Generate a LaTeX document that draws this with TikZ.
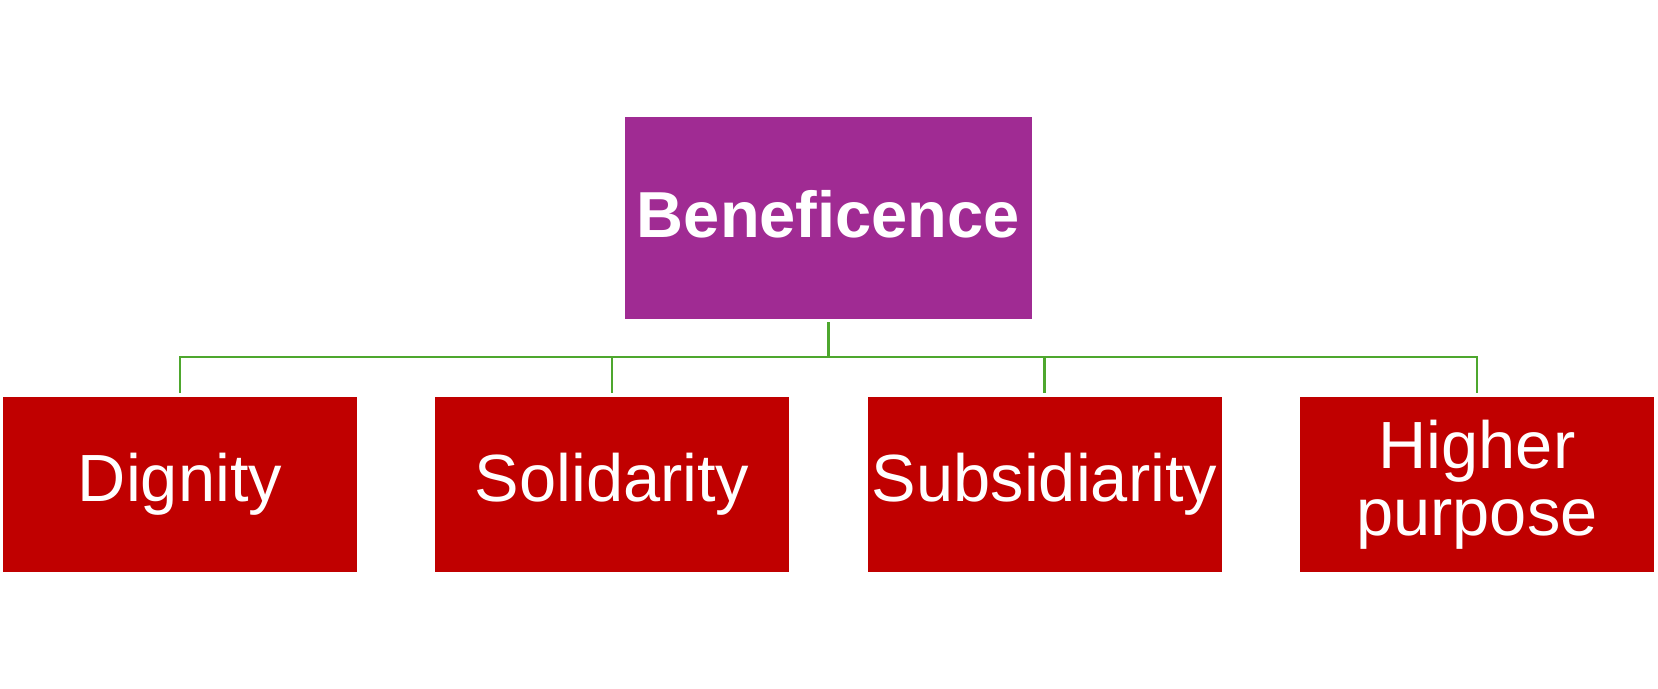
\documentclass[tikz,border=0pt]{standalone}
\usepackage{fontspec}
\setmainfont{Liberation Sans}
\usepackage{xcolor}
\definecolor{topcolor}{HTML}{A02B93}
\definecolor{valuecolor}{HTML}{C00000}
\definecolor{linkcolor}{HTML}{4EA72E}
\usepackage{tikz}
\usetikzlibrary{positioning, calc}

\tikzset{
  rootbox/.style={fill=topcolor, text=white, minimum width=12.21cm, minimum height=6.06cm,
    inner sep=0pt, outer sep=0.09cm, font=\fontsize{55.5}{55.5}\selectfont\bfseries},
  valuebox/.style={fill=valuecolor, text=white, minimum width=10.62cm, minimum height=5.25cm,
    inner sep=0pt, outer sep=0.12cm, align=center, font=\fontsize{57}{57}\selectfont},
  link/.style={draw=linkcolor, line width=2.1pt}
}

\begin{document}
\begin{tikzpicture}[x=0.03cm, y=-0.03cm]
  \useasboundingbox (0,0) rectangle (1658,688);
  \node[rootbox] (root) at (828.5,218) {\raisebox{0.24cm}{Beneficence}};
  \coordinate (bus) at (828.5,357);
  \foreach \i/\xpos/\name in {
    1/180/Dignity,
    2/612/Solidarity,
    3/1044.5/Subsidiarity,
    4/1477/Higher\\purpose%
  } {
    \node[valuebox] (val\i) at (\xpos,484.5) {\name};
    \draw[link] (root.south) -- (root.south |- bus) -| (val\i.north);
  }
\end{tikzpicture}
\end{document}
